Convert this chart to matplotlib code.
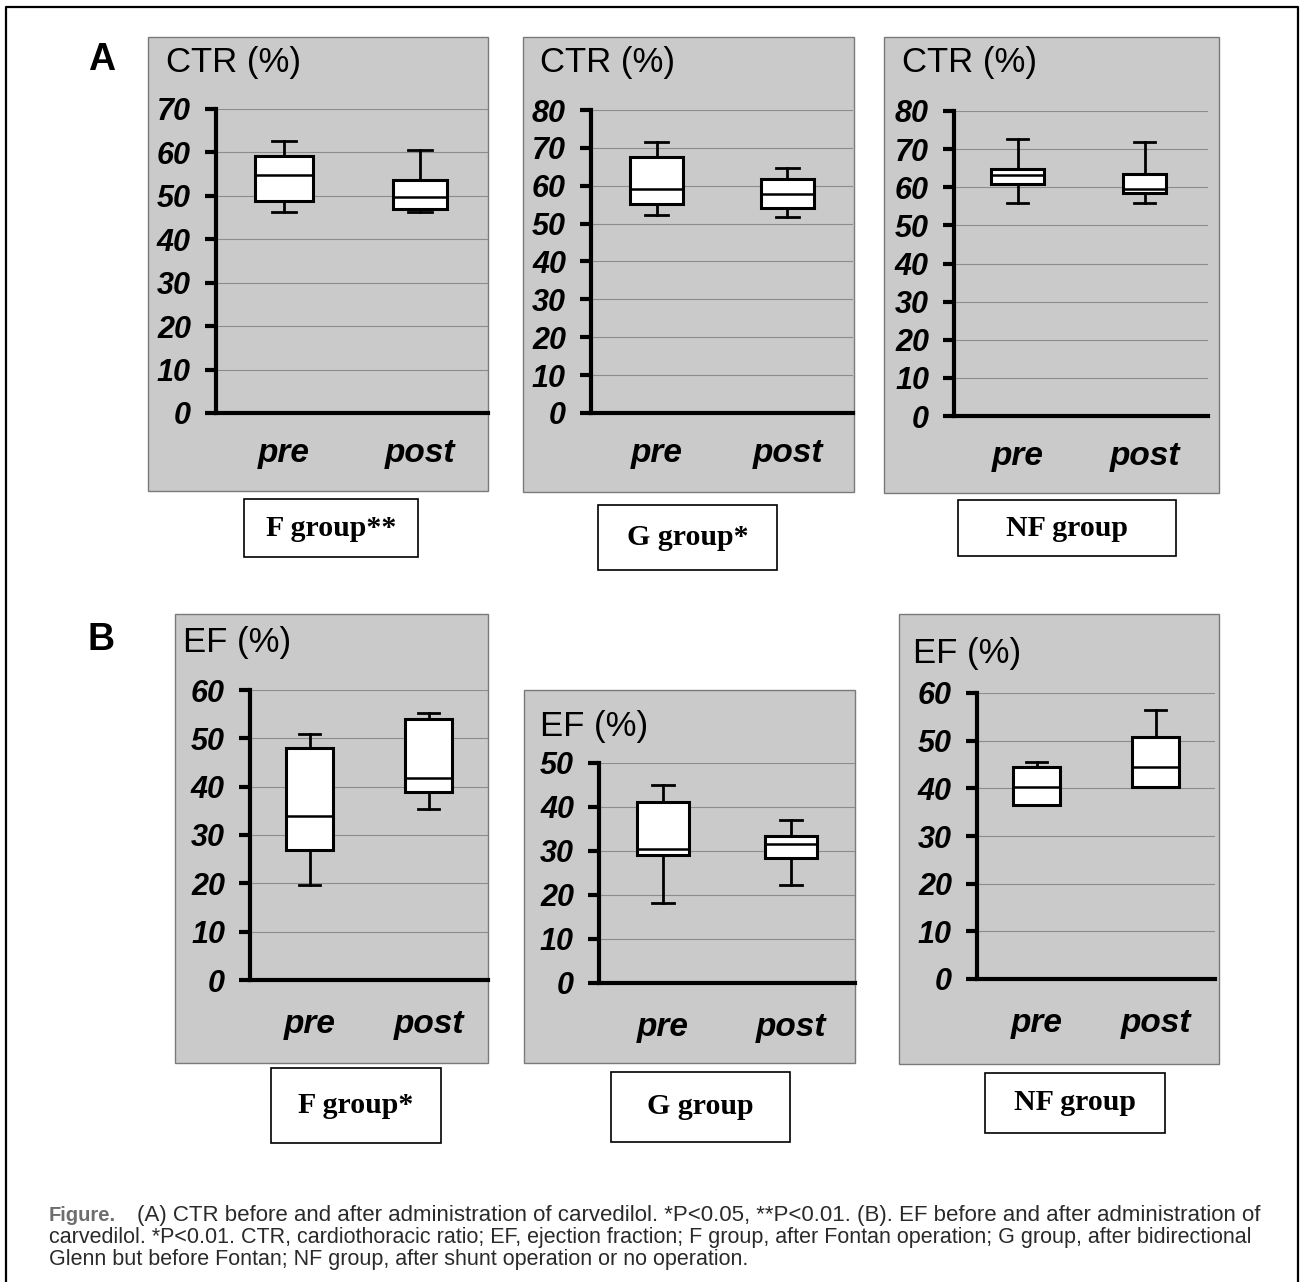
import matplotlib
matplotlib.use("Agg")
import matplotlib.pyplot as plt
from matplotlib.patches import Rectangle
from matplotlib.lines import Line2D

# === CONSTANTS ===
W, H = 1304, 1282
DPI = 100
PANEL_GREY = "#cacaca"
SANS = "Liberation Sans"
SERIF = "Liberation Serif"

# box stats: [whisker low, q1, median, q3, whisker high]
ctr_f_pre = [46.3, 48.8, 54.8, 59.2, 62.6]
ctr_f_post = [46.3, 46.9, 49.7, 53.7, 60.6]
ctr_g_pre = [52.3, 55.2, 59.1, 67.7, 71.5]
ctr_g_post = [51.8, 54.0, 57.9, 61.9, 64.6]
ctr_nf_pre = [55.9, 60.9, 63.1, 64.7, 72.6]
ctr_nf_post = [55.9, 58.5, 59.5, 63.6, 71.9]
ef_f_pre = [19.6, 26.8, 34.0, 48.0, 50.9]
ef_f_post = [35.4, 38.8, 41.7, 54.1, 55.2]
ef_g_pre = [18.2, 29.0, 30.5, 41.2, 44.9]
ef_g_post = [22.2, 28.5, 31.5, 33.5, 37.0]
ef_nf_pre = [36.4, 36.4, 40.3, 44.4, 45.5]
ef_nf_post = [40.3, 40.3, 44.4, 50.8, 56.4]

timepoints = ["pre", "post"]
ctr_ymax = [70, 80, 80]
ef_ymax = [60, 50, 60]
ctr_groups = ["F group**", "G group*", "NF group"]
ef_groups = ["F group*", "G group", "NF group"]

caption_first = "(A) CTR before and after administration of carvedilol. *P<0.05, **P<0.01. (B). EF before and after administration of"
caption_lines = [
    "carvedilol. *P<0.01. CTR, cardiothoracic ratio; EF, ejection fraction; F group, after Fontan operation; G group, after bidirectional",
    "Glenn but before Fontan; NF group, after shunt operation or no operation.",
]

# pixel layout: panel box, axes box (l, t, r, b), title baseline, label box, x label pad, box widths
LAYOUT = [
    dict(panel=(148, 37, 488, 491), ax=(216, 109, 488, 413), title=(166, 72), box=(244, 499, 418, 557), pad=18, widths=[0.42, 0.40]),
    dict(panel=(523, 37, 854, 492), ax=(591, 110, 853, 413), title=(540, 72), box=(598, 505, 777, 570), pad=18, widths=[0.41, 0.40]),
    dict(panel=(884, 37, 1219, 493), ax=(954, 111, 1208, 416), title=(902, 72), box=(958, 500, 1176, 556), pad=18, widths=[0.42, 0.34]),
    dict(panel=(175, 614, 488, 1063), ax=(250, 690, 488, 980), title=(183, 652), box=(271, 1068, 441, 1143), pad=21, widths=[0.40, 0.40]),
    dict(panel=(524, 690, 855, 1063), ax=(599, 763, 855, 983), title=(540, 736), box=(611, 1072, 790, 1142), pad=21, widths=[0.40, 0.41]),
    dict(panel=(899, 614, 1219, 1064), ax=(977, 693, 1215, 979), title=(913, 663), box=(985, 1073, 1165, 1133), pad=21, widths=[0.40, 0.40]),
]


def frac_rect(l, t, r, b):
    return [l / W, 1 - b / H, (r - l) / W, (b - t) / H]


def stats(name, vals):
    lo, q1, med, q3, hi = vals
    return dict(label=name, whislo=lo, q1=q1, med=med, q3=q3, whishi=hi, fliers=[])


def draw_panel(fig, lay, pre, post, ymax, title, group):
    l, t, r, b = lay["panel"]
    fig.add_artist(Rectangle((l / W, 1 - b / H), (r - l) / W, (b - t) / H,
                             transform=fig.transFigure, facecolor=PANEL_GREY,
                             edgecolor="#7a7a7a", lw=1.0, zorder=-5))

    ax = fig.add_axes(frac_rect(*lay["ax"]))
    ax.set_facecolor("none")
    ax.bxp([stats(timepoints[0], pre), stats(timepoints[1], post)],
           positions=[1, 2], widths=lay["widths"], capwidths=0.17,
           showfliers=False, patch_artist=True,
           boxprops=dict(facecolor="white", edgecolor="black", lw=2.2),
           medianprops=dict(color="black", lw=1.8),
           whiskerprops=dict(color="black", lw=2.0),
           capprops=dict(color="black", lw=2.0))
    ax.set_xlim(0.5, 2.5)
    ax.set_ylim(0, ymax)
    ax.set_yticks(range(0, ymax + 1, 10))
    ax.set_yticklabels([str(v) for v in range(0, ymax + 1, 10)],
                       fontfamily=SANS, fontweight="bold", fontstyle="italic", fontsize=22)
    ax.set_xticklabels(timepoints, fontfamily=SANS, fontweight="bold",
                       fontstyle="italic", fontsize=24)
    ax.tick_params(axis="y", direction="out", length=8, width=3, pad=10)
    ax.tick_params(axis="x", length=0, pad=lay["pad"])
    for side in ("top", "right"):
        ax.spines[side].set_visible(False)
    for side in ("left", "bottom"):
        ax.spines[side].set_linewidth(3)
    ax.grid(axis="y", color="#8c8c8c", lw=0.8)
    ax.set_axisbelow(True)

    tx, ty = lay["title"]
    fig.text(tx / W, 1 - ty / H, title, fontfamily=SANS, fontsize=25, va="baseline")

    l, t, r, b = lay["box"]
    fig.add_artist(Rectangle((l / W, 1 - b / H), (r - l) / W, (b - t) / H,
                             transform=fig.transFigure, facecolor="white",
                             edgecolor="black", lw=1.2, zorder=2))
    fig.text((l + r) / 2 / W, 1 - (t + b) / 2 / H, group, fontfamily=SERIF,
             fontweight="bold", fontsize=21.5, ha="center", va="center", zorder=3)


# === RUN ===
if __name__ == "__main__":
    fig = plt.figure(figsize=(W / DPI, H / DPI), dpi=DPI)

    # outer frame (open at the bottom)
    fig.add_artist(Line2D([6 / W, 6 / W, 1298 / W, 1298 / W], [0, 1 - 7 / H, 1 - 7 / H, 0],
                          transform=fig.transFigure, color="black", lw=1.6))

    fig.text(88 / W, 1 - 70 / H, "A", fontfamily=SANS, fontweight="bold", fontsize=27, va="baseline")
    fig.text(88 / W, 1 - 650 / H, "B", fontfamily=SANS, fontweight="bold", fontsize=27, va="baseline")

    ctr_data = [(ctr_f_pre, ctr_f_post), (ctr_g_pre, ctr_g_post), (ctr_nf_pre, ctr_nf_post)]
    ef_data = [(ef_f_pre, ef_f_post), (ef_g_pre, ef_g_post), (ef_nf_pre, ef_nf_post)]
    for i in range(3):
        draw_panel(fig, LAYOUT[i], ctr_data[i][0], ctr_data[i][1], ctr_ymax[i], "CTR (%)", ctr_groups[i])
        draw_panel(fig, LAYOUT[i + 3], ef_data[i][0], ef_data[i][1], ef_ymax[i], "EF (%)", ef_groups[i])

    # caption
    fig.text(49 / W, 1 - 1221 / H, "Figure.", fontfamily=SANS, fontweight="bold",
             fontsize=14.5, color="#6e6e6e", va="baseline")
    fig.text(137 / W, 1 - 1221 / H, caption_first, fontfamily=SANS, fontsize=16,
             color="#2a2a2a", va="baseline")
    for k, line in enumerate(caption_lines):
        fig.text(49 / W, 1 - (1243 + 22 * k) / H, line, fontfamily=SANS, fontsize=15.5,
                 color="#2a2a2a", va="baseline")

    fig.savefig("out.png", dpi=DPI, facecolor="white")
    print("Saved chart to out.png")
